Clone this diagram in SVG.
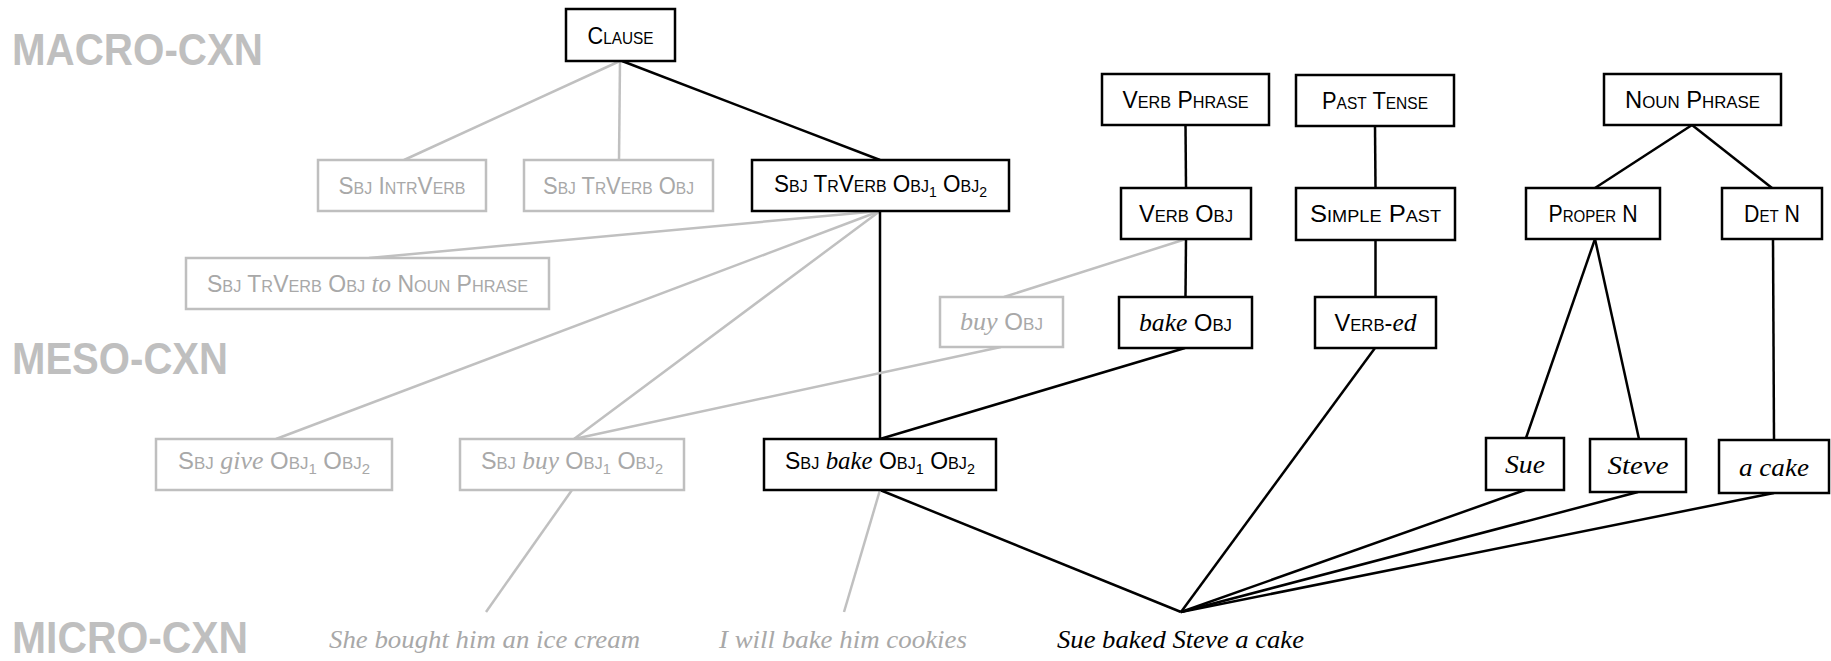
<svg xmlns="http://www.w3.org/2000/svg" width="1831" height="661" viewBox="0 0 1831 661">
<style>
.box{fill:#fff;stroke:#000;stroke-width:2.5}
.gbox{fill:#fff;stroke:#bfbfbf;stroke-width:2.5}
.ln{stroke:#000;stroke-width:2.5;fill:none}
.gln{stroke:#c0c0c0;stroke-width:2.5;fill:none}
.t{font-family:"Liberation Sans",Arial,sans-serif;font-size:24px;fill:#000;text-anchor:middle}
.gt{fill:#a8a8a8}
.sc{font-size:17px}
.sub{font-size:15px}
.it{font-family:"Liberation Serif","Times New Roman",serif;font-style:italic;font-size:26px}
.lvl{font-family:"Liberation Sans",Arial,sans-serif;font-weight:bold;font-size:45px;fill:#bfbfbf}
.sent{font-family:"Liberation Serif","Times New Roman",serif;font-style:italic;font-size:26px;text-anchor:middle}
</style>
<rect width="1831" height="661" fill="#fff"/>
<g id="levels">
<text class="lvl" x="12" y="65" textLength="251" lengthAdjust="spacingAndGlyphs">MACRO-CXN</text>
<text class="lvl" x="12" y="374" textLength="216" lengthAdjust="spacingAndGlyphs">MESO-CXN</text>
<text class="lvl" x="12" y="653" textLength="236" lengthAdjust="spacingAndGlyphs">MICRO-CXN</text>
</g>
<g id="connectors">
<line class="gln" x1="620" y1="61" x2="404" y2="160"/>
<line class="gln" x1="620" y1="61" x2="619" y2="160"/>
<line class="ln" x1="622" y1="61" x2="880" y2="160"/>
<line class="gln" x1="880" y1="211" x2="369" y2="258"/>
<line class="gln" x1="880" y1="211" x2="276" y2="439"/>
<line class="gln" x1="880" y1="211" x2="574" y2="439"/>
<line class="ln" x1="880" y1="211" x2="880" y2="439"/>
<line class="gln" x1="1186" y1="239" x2="1004" y2="297"/>
<line class="gln" x1="1001" y1="347" x2="574" y2="439"/>
<line class="ln" x1="1185.5" y1="125" x2="1186" y2="188"/>
<line class="ln" x1="1186" y1="239" x2="1185.5" y2="297"/>
<line class="ln" x1="1185" y1="348" x2="880" y2="439"/>
<line class="ln" x1="1375" y1="126" x2="1375.5" y2="188"/>
<line class="ln" x1="1375.5" y1="240" x2="1375.5" y2="297"/>
<line class="ln" x1="1375" y1="348" x2="1181" y2="612"/>
<line class="ln" x1="1692" y1="125" x2="1595" y2="188"/>
<line class="ln" x1="1692" y1="125" x2="1772" y2="188"/>
<line class="ln" x1="1595" y1="239" x2="1526" y2="438"/>
<line class="ln" x1="1595" y1="239" x2="1639" y2="439"/>
<line class="ln" x1="1773" y1="239" x2="1774" y2="440"/>
<line class="ln" x1="880" y1="490" x2="1181" y2="612"/>
<line class="ln" x1="1525" y1="490" x2="1181" y2="612"/>
<line class="ln" x1="1638" y1="492" x2="1181" y2="612"/>
<line class="ln" x1="1774" y1="493" x2="1181" y2="612"/>
<line class="gln" x1="572" y1="490" x2="486" y2="612"/>
<line class="gln" x1="880" y1="490" x2="844" y2="612"/>
</g>
<g id="n-clause"><rect class="box" x="566" y="9" width="109" height="52"/>
<text class="t" x="620.5" y="44" textLength="66" lengthAdjust="spacingAndGlyphs">C<tspan class="sc">LAUSE</tspan></text></g>
<g id="n-sbj-intrverb"><rect class="gbox" x="318" y="160" width="168" height="51"/>
<text class="t gt" x="402" y="194" textLength="127" lengthAdjust="spacingAndGlyphs">S<tspan class="sc">BJ</tspan> I<tspan class="sc">NTR</tspan>V<tspan class="sc">ERB</tspan></text></g>
<g id="n-sbj-trverb-obj"><rect class="gbox" x="524" y="160" width="189" height="51"/>
<text class="t gt" x="618.5" y="194" textLength="151" lengthAdjust="spacingAndGlyphs">S<tspan class="sc">BJ</tspan> T<tspan class="sc">R</tspan>V<tspan class="sc">ERB</tspan> O<tspan class="sc">BJ</tspan></text></g>
<g id="n-sbj-trverb-obj1-obj2"><rect class="box" x="752" y="160" width="257" height="51"/>
<text class="t" x="880.5" y="192" textLength="213" lengthAdjust="spacingAndGlyphs">S<tspan class="sc">BJ</tspan> T<tspan class="sc">R</tspan>V<tspan class="sc">ERB</tspan> O<tspan class="sc">BJ</tspan><tspan class="sub" dy="5">1</tspan> <tspan dy="-5">O</tspan><tspan class="sc">BJ</tspan><tspan class="sub" dy="5">2</tspan></text></g>
<g id="n-sbj-trverb-obj-to-np"><rect class="gbox" x="186" y="258" width="363" height="51"/>
<text class="t gt" x="367.5" y="292" textLength="321" lengthAdjust="spacingAndGlyphs">S<tspan class="sc">BJ</tspan> T<tspan class="sc">R</tspan>V<tspan class="sc">ERB</tspan> O<tspan class="sc">BJ</tspan> <tspan class="it">to</tspan> N<tspan class="sc">OUN</tspan> P<tspan class="sc">HRASE</tspan></text></g>
<g id="n-verb-phrase"><rect class="box" x="1102" y="74" width="167" height="51"/>
<text class="t" x="1185.5" y="108" textLength="126" lengthAdjust="spacingAndGlyphs">V<tspan class="sc">ERB</tspan> P<tspan class="sc">HRASE</tspan></text></g>
<g id="n-past-tense"><rect class="box" x="1296" y="75" width="158" height="51"/>
<text class="t" x="1375" y="109" textLength="106" lengthAdjust="spacingAndGlyphs">P<tspan class="sc">AST</tspan> T<tspan class="sc">ENSE</tspan></text></g>
<g id="n-noun-phrase"><rect class="box" x="1604" y="74" width="177" height="51"/>
<text class="t" x="1692.5" y="108" textLength="135" lengthAdjust="spacingAndGlyphs">N<tspan class="sc">OUN</tspan> P<tspan class="sc">HRASE</tspan></text></g>
<g id="n-verb-obj"><rect class="box" x="1121" y="188" width="130" height="51"/>
<text class="t" x="1186" y="222" textLength="94" lengthAdjust="spacingAndGlyphs">V<tspan class="sc">ERB</tspan> O<tspan class="sc">BJ</tspan></text></g>
<g id="n-simple-past"><rect class="box" x="1296" y="188" width="159" height="52"/>
<text class="t" x="1375.5" y="222" textLength="131" lengthAdjust="spacingAndGlyphs">S<tspan class="sc">IMPLE</tspan> P<tspan class="sc">AST</tspan></text></g>
<g id="n-proper-n"><rect class="box" x="1526" y="188" width="134" height="51"/>
<text class="t" x="1593" y="222" textLength="89" lengthAdjust="spacingAndGlyphs">P<tspan class="sc">ROPER</tspan> N</text></g>
<g id="n-det-n"><rect class="box" x="1722" y="188" width="100" height="51"/>
<text class="t" x="1772" y="222" textLength="56" lengthAdjust="spacingAndGlyphs">D<tspan class="sc">ET</tspan> N</text></g>
<g id="n-buy-obj"><rect class="gbox" x="940" y="297" width="123" height="50"/>
<text class="t gt" x="1001.5" y="330" textLength="83" lengthAdjust="spacingAndGlyphs"><tspan class="it">buy</tspan> O<tspan class="sc">BJ</tspan></text></g>
<g id="n-bake-obj"><rect class="box" x="1119" y="297" width="133" height="51"/>
<text class="t" x="1185.5" y="331" textLength="93" lengthAdjust="spacingAndGlyphs"><tspan class="it">bake</tspan> O<tspan class="sc">BJ</tspan></text></g>
<g id="n-verb-ed"><rect class="box" x="1315" y="297" width="121" height="51"/>
<text class="t" x="1375.5" y="331" textLength="82" lengthAdjust="spacingAndGlyphs">V<tspan class="sc">ERB</tspan>-<tspan class="it">ed</tspan></text></g>
<g id="n-sbj-give"><rect class="gbox" x="156" y="439" width="236" height="51"/>
<text class="t gt" x="274" y="469" textLength="192" lengthAdjust="spacingAndGlyphs">S<tspan class="sc">BJ</tspan> <tspan class="it">give</tspan> O<tspan class="sc">BJ</tspan><tspan class="sub" dy="5">1</tspan> <tspan dy="-5">O</tspan><tspan class="sc">BJ</tspan><tspan class="sub" dy="5">2</tspan></text></g>
<g id="n-sbj-buy"><rect class="gbox" x="460" y="439" width="224" height="51"/>
<text class="t gt" x="572" y="469" textLength="182" lengthAdjust="spacingAndGlyphs">S<tspan class="sc">BJ</tspan> <tspan class="it">buy</tspan> O<tspan class="sc">BJ</tspan><tspan class="sub" dy="5">1</tspan> <tspan dy="-5">O</tspan><tspan class="sc">BJ</tspan><tspan class="sub" dy="5">2</tspan></text></g>
<g id="n-sbj-bake"><rect class="box" x="764" y="439" width="232" height="51"/>
<text class="t" x="880" y="469" textLength="190" lengthAdjust="spacingAndGlyphs">S<tspan class="sc">BJ</tspan> <tspan class="it">bake</tspan> O<tspan class="sc">BJ</tspan><tspan class="sub" dy="5">1</tspan> <tspan dy="-5">O</tspan><tspan class="sc">BJ</tspan><tspan class="sub" dy="5">2</tspan></text></g>
<g id="n-sue"><rect class="box" x="1486" y="438" width="78" height="52"/>
<text class="t" x="1525" y="473" textLength="40" lengthAdjust="spacingAndGlyphs"><tspan class="it">Sue</tspan></text></g>
<g id="n-steve"><rect class="box" x="1590" y="439" width="96" height="53"/>
<text class="t" x="1638" y="474" textLength="61" lengthAdjust="spacingAndGlyphs"><tspan class="it">Steve</tspan></text></g>
<g id="n-a-cake"><rect class="box" x="1719" y="440" width="110" height="53"/>
<text class="t" x="1774" y="476" textLength="70" lengthAdjust="spacingAndGlyphs"><tspan class="it">a cake</tspan></text></g>
<g id="n-she-bought"><text class="sent" x="484.5" y="648" fill="#a8a8a8" textLength="311" lengthAdjust="spacingAndGlyphs">She bought him an ice cream</text></g>
<g id="n-i-will-bake"><text class="sent" x="843" y="648" fill="#a8a8a8" textLength="248" lengthAdjust="spacingAndGlyphs">I will bake him cookies</text></g>
<g id="n-sue-baked"><text class="sent" x="1180.5" y="648" fill="#000" textLength="247" lengthAdjust="spacingAndGlyphs">Sue baked Steve a cake</text></g>
</svg>
